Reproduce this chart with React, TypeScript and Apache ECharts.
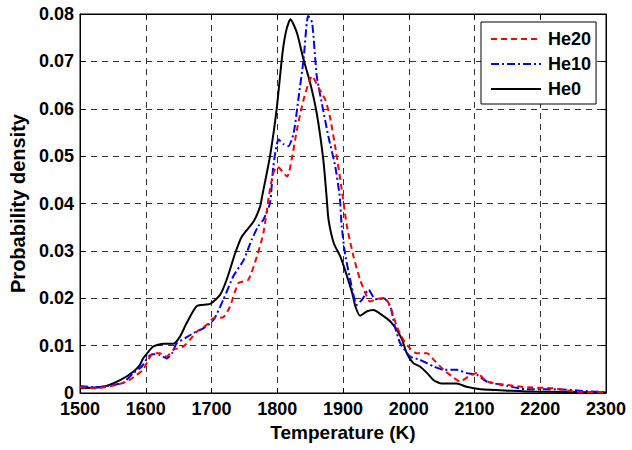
import React, { useEffect, useRef } from "react";
import * as echarts from "echarts";

const xTicks = [1500, 1600, 1700, 1800, 1900, 2000, 2100, 2200, 2300];
const seriesNames = ["He20", "He10", "He0"];

const he20Temp = [1500, 1525, 1551, 1571, 1586, 1596, 1604, 1611, 1621, 1632, 1642, 1657, 1667, 1678, 1693, 1703, 1718, 1728, 1741, 1756, 1769, 1779, 1788, 1794, 1800, 1815, 1822, 1830, 1840, 1853, 1863, 1873, 1880, 1888, 1897, 1906, 1916, 1926, 1934, 1941, 1951, 1964, 1972, 1982, 1992, 2002, 2012, 2028, 2038, 2053, 2066, 2078, 2091, 2104, 2119, 2150, 2180, 2220, 2251, 2300];
const he20Density = [0.0012, 0.001, 0.0016, 0.0024, 0.0038, 0.0049, 0.007, 0.0084, 0.0084, 0.0077, 0.0091, 0.0098, 0.0112, 0.013, 0.0144, 0.0158, 0.016, 0.0182, 0.0232, 0.0239, 0.0288, 0.0338, 0.0422, 0.0464, 0.0478, 0.0457, 0.0493, 0.0556, 0.0619, 0.0669, 0.0644, 0.0619, 0.0584, 0.0521, 0.044, 0.0352, 0.0288, 0.0239, 0.0211, 0.0193, 0.0198, 0.02, 0.0182, 0.014, 0.0112, 0.0094, 0.0084, 0.0084, 0.007, 0.0049, 0.0035, 0.0024, 0.0035, 0.0042, 0.0024, 0.0017, 0.0012, 0.001, 0.0003, 0.0001];

const he10Temp = [1500, 1525, 1551, 1566, 1581, 1594, 1604, 1611, 1621, 1632, 1640, 1647, 1660, 1672, 1688, 1703, 1718, 1733, 1749, 1761, 1771, 1779, 1789, 1794, 1802, 1810, 1817, 1825, 1832, 1840, 1847, 1853, 1860, 1868, 1878, 1888, 1895, 1898, 1903, 1911, 1921, 1929, 1939, 1949, 1962, 1972, 1979, 1987, 2002, 2017, 2038, 2053, 2073, 2088, 2104, 2119, 2150, 2180, 2220, 2281, 2300];
const he10Density = [0.0015, 0.0012, 0.0017, 0.0022, 0.0042, 0.0056, 0.0077, 0.0082, 0.008, 0.0073, 0.0084, 0.0105, 0.0116, 0.0126, 0.0137, 0.0154, 0.0197, 0.0246, 0.0281, 0.0323, 0.0352, 0.0366, 0.0401, 0.0478, 0.0535, 0.0525, 0.0521, 0.0549, 0.0619, 0.0704, 0.0796, 0.0782, 0.067, 0.061, 0.054, 0.048, 0.0415, 0.0352, 0.0295, 0.0239, 0.0186, 0.0197, 0.0218, 0.0198, 0.02, 0.0182, 0.014, 0.0105, 0.0077, 0.007, 0.0056, 0.0049, 0.0049, 0.0042, 0.0038, 0.0024, 0.0015, 0.0008, 0.0008, 0.0003, 0.0002];

const he0Temp = [1500, 1535, 1561, 1581, 1591, 1596, 1604, 1611, 1627, 1642, 1652, 1662, 1678, 1698, 1713, 1723, 1736, 1746, 1764, 1774, 1777, 1789, 1799, 1808, 1814, 1820, 1830, 1840, 1850, 1860, 1870, 1875, 1878, 1886, 1896, 1903, 1914, 1919, 1926, 1936, 1946, 1959, 1972, 1982, 1990, 1997, 2007, 2017, 2028, 2038, 2050, 2073, 2088, 2109, 2154, 2190, 2300];
const he0Density = [0.001, 0.0013, 0.0027, 0.0045, 0.0059, 0.0073, 0.0087, 0.0098, 0.0104, 0.0104, 0.0119, 0.0147, 0.0184, 0.0188, 0.0207, 0.0239, 0.0295, 0.033, 0.0362, 0.0394, 0.0415, 0.05, 0.0598, 0.0718, 0.0767, 0.0789, 0.076, 0.0704, 0.0655, 0.0591, 0.0493, 0.0415, 0.0366, 0.0316, 0.0288, 0.026, 0.0211, 0.0182, 0.0163, 0.0172, 0.0175, 0.0165, 0.0151, 0.0133, 0.0112, 0.0084, 0.0063, 0.0056, 0.0042, 0.0027, 0.002, 0.002, 0.0013, 0.0008, 0.0005, 0.0003, 0.0001];

const zip = (xs: number[], ys: number[]) => xs.map((x, i) => [x, ys[i]]);

const FONT = "'Liberation Sans', Arial, sans-serif";

export default function App() {
  const ref = useRef<HTMLDivElement>(null);
  useEffect(() => {
    if (!ref.current) return;
    const chart = echarts.init(ref.current, undefined, { renderer: "svg" });
    const gridLine = { show: true, lineStyle: { color: "#333", width: 1, type: [6, 5] as any } };
    const labelStyle = { color: "#000", fontFamily: FONT, fontWeight: "bold" as const, fontSize: 18 };
    chart.setOption({
      animation: false,
      backgroundColor: "#fff",
      grid: { left: 80, right: 26, top: 14, bottom: 57, show: true, borderColor: "#000", borderWidth: 1, backgroundColor: "#fff" },
      legend: {
        data: seriesNames,
        orient: "vertical",
        left: 481,
        top: 22,
        itemWidth: 50,
        itemHeight: 18,
        itemGap: 7,
        padding: [8, 5, 6, 9],
        borderColor: "#000",
        borderWidth: 1,
        backgroundColor: "#fff",
        borderRadius: 0,
        itemStyle: { color: "transparent", borderColor: "transparent", borderWidth: 0, opacity: 0 },
        textStyle: { ...labelStyle, padding: [0, 0, 0, 2] },
      },
      xAxis: [
        {
          type: "value",
          min: xTicks[0],
          max: xTicks[xTicks.length - 1],
          interval: 100,
          name: "Temperature (K)",
          nameLocation: "middle",
          nameGap: 30,
          nameTextStyle: { ...labelStyle, fontSize: 19, verticalAlign: "top" },
          axisLine: { show: true, onZero: false, lineStyle: { color: "#000", width: 1 } },
          axisTick: { show: true, inside: true, length: 5, lineStyle: { color: "#000" } },
          axisLabel: { ...labelStyle, margin: 7, formatter: (v: number) => String(v) },
          splitLine: gridLine,
        },
        {
          type: "value",
          position: "top",
          min: xTicks[0],
          max: xTicks[xTicks.length - 1],
          interval: 100,
          axisLine: { show: true, onZero: false, lineStyle: { color: "#000", width: 1 } },
          axisTick: { show: true, inside: true, length: 5, lineStyle: { color: "#000" } },
          axisLabel: { show: false },
          splitLine: { show: false },
        },
      ],
      yAxis: [
        {
          type: "value",
          min: 0,
          max: 0.08,
          interval: 0.01,
          name: "Probability density",
          nameLocation: "middle",
          nameGap: 52,
          nameTextStyle: { ...labelStyle, fontSize: 20 },
          axisLine: { show: true, onZero: false, lineStyle: { color: "#000", width: 1 } },
          axisTick: { show: true, inside: true, length: 5, lineStyle: { color: "#000" } },
          axisLabel: { ...labelStyle, margin: 6, formatter: (v: number) => (v === 0 ? "0" : v.toFixed(2)) },
          splitLine: gridLine,
        },
        {
          type: "value",
          position: "right",
          min: 0,
          max: 0.08,
          interval: 0.01,
          axisLine: { show: true, onZero: false, lineStyle: { color: "#000", width: 1 } },
          axisTick: { show: true, inside: true, length: 5, lineStyle: { color: "#000" } },
          axisLabel: { show: false },
          splitLine: { show: false },
        },
      ],
      series: [
        {
          name: "He0",
          type: "line",
          data: zip(he0Temp, he0Density),
          showSymbol: false,
          symbol: "none",
          smooth: 0.2,
          lineStyle: { color: "#000", width: 2, type: "solid" },
          itemStyle: { color: "#000" },
          z: 3,
        },
        {
          name: "He10",
          type: "line",
          data: zip(he10Temp, he10Density),
          showSymbol: false,
          symbol: "none",
          smooth: 0.2,
          lineStyle: { color: "#0000ff", width: 2, type: [8, 3, 2, 3] },
          itemStyle: { color: "#0000ff" },
          z: 4,
        },
        {
          name: "He20",
          type: "line",
          data: zip(he20Temp, he20Density),
          showSymbol: false,
          symbol: "none",
          smooth: 0.2,
          lineStyle: { color: "#ff0000", width: 2, type: [6, 4] },
          itemStyle: { color: "#ff0000" },
          z: 5,
        },
      ],
    });
    return () => chart.dispose();
  }, []);
  return <div ref={ref} style={{ width: 632, height: 450, position: "absolute", left: 0, top: 0 }} />;
}
